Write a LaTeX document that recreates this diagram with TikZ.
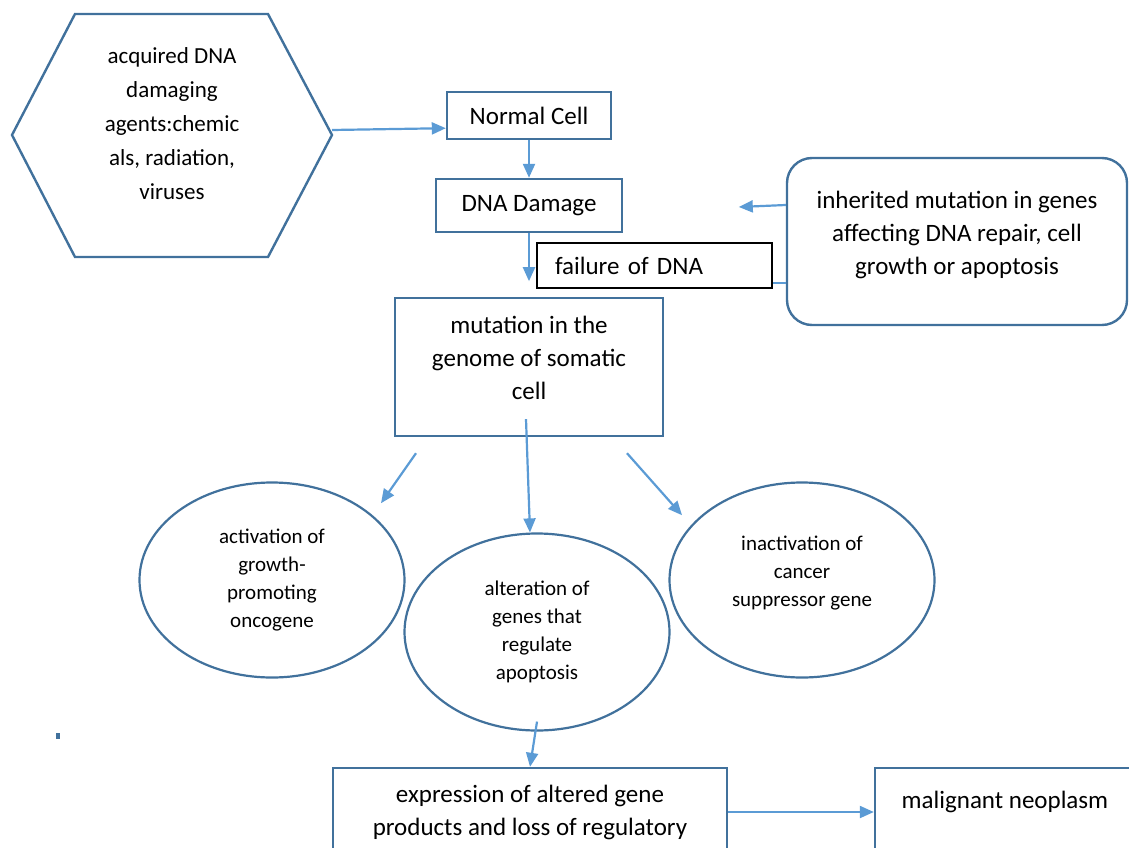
\documentclass[tikz,border=0pt]{standalone}
\usepackage{fontspec}
\setmainfont{Carlito}
\usetikzlibrary{shapes.geometric,arrows.meta}
\definecolor{boxblue}{HTML}{41719C}
\definecolor{arrowblue}{HTML}{5B9BD5}

\begin{document}
\begin{tikzpicture}[x=1pt,y=-1pt,
        box/.style={draw=boxblue, line width=2.4pt, align=center, inner sep=0pt,
            font=\fontsize{25}{33}\selectfont},
        oval/.style={draw=boxblue, line width=2.2pt, ellipse, align=center, inner sep=0pt,
            minimum width=265pt, minimum height=195pt, font=\fontsize{21}{28}\selectfont},
        arr/.style={draw=arrowblue, line width=2.2pt, -{Triangle[length=14pt,width=12pt]}},
        link/.style={draw=arrowblue, line width=2.2pt}]
            \useasboundingbox (0,0) rectangle (1129,848);
            \clip (0,0) rectangle (1129,848);

            % Hexagon with the outside agents
            \draw[draw=boxblue, line width=2.4pt] (12,135) -- (75,14) -- (268,14)
                -- (332,135) -- (268,257) -- (75,257) -- cycle;
            \node[align=center, font=\fontsize{23}{34}\selectfont] (agents) at (172,124)
                {acquired DNA\\damaging\\agents:chemic\\als, radiation,\\viruses};
            \coordinate (hexR) at (332,130);

            % Main column
            \node[box, minimum width=164pt, minimum height=47pt] (normal) at (529,115.5) {Normal Cell};
            \node[box, minimum width=186pt, minimum height=53pt] (dna) at (529,205.5) {DNA Damage};
            \node[draw=black, line width=1.3pt, inner xsep=18pt, inner ysep=0pt, text width=199pt,
                align=left, minimum height=45pt, font=\fontsize{25}{33}\selectfont]
                (fail) at (654.5,265.5) {failure of DNA};
            \node[box, minimum width=268pt, minimum height=138pt, text depth=18pt] (mut) at (529,367)
                {mutation in the\\genome of somatic\\cell};

            % Inherited side box
            \node[box, rounded corners=25pt, minimum width=340pt, minimum height=167pt, text depth=17pt]
                (inh) at (957,241.5) {inherited mutation in genes\\affecting DNA repair, cell\\growth or apoptosis};
            \coordinate (inhLow) at ([yshift=-41.5pt]inh.west);

            % Three ovals
            \node[oval] (onco) at (272,580) {activation of\\growth-\\promoting\\oncogene};
            \node[oval, minimum height=197pt] (apop) at (537,632) {alteration of\\genes that\\regulate\\apoptosis};
            \node[oval, text depth=17pt] (supp) at (802,580) {inactivation of\\cancer\\suppressor gene};

            % Bottom row
            \node[box, minimum width=394pt, minimum height=88pt] (expr) at (530,812)
                {expression of altered gene\\products and loss of regulatory};
            \node[box, minimum width=260pt, minimum height=88pt, text depth=24pt] (malig) at (1005,812)
                {malignant neoplasm};

            % Stray dot
            \fill[boxblue] (56,733) rectangle (60,739);

            % Arrows
            \draw[arr] (hexR) -- ([yshift=12pt]normal.south west);
            \draw[arr] (normal) -- (dna);
            \draw[arr] (dna.south) -- ++(0,48);
            \draw[arr] ([yshift=36.5pt]inh.west) -- ++(-47,2);
            \draw[link] (inhLow) -- (fail.east |- inhLow);
            \draw[arr] ([xshift=-113pt,yshift=-16pt]mut.south) -- ++(-35,50);
            \draw[arr] ([xshift=-3pt,yshift=18pt]mut.south) -- ([xshift=-7pt]apop.north);
            \draw[arr] ([xshift=98pt,yshift=-16pt]mut.south) -- ++(55,62);
            \draw[arr] ([yshift=10pt]apop.south) -- (expr.north);
            \draw[arr] (expr.east) -- (malig.west);
        \end{tikzpicture}
\end{document}
